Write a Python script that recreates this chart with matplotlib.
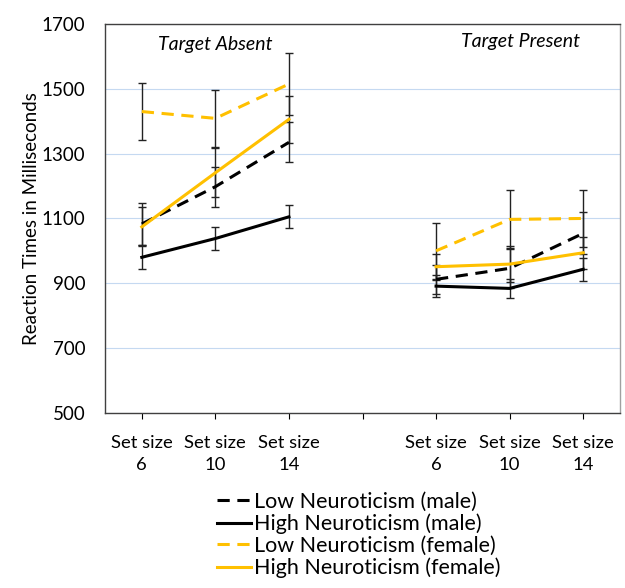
import numpy as np
import matplotlib.pyplot as plt

plt.rcParams['font.family'] = ['Lato', 'DejaVu Sans']

# categories: absent 6/10/14, gap, present 6/10/14
set_sizes = ['6', '10', '14', '', '6', '10', '14']

low_male = [1083, 1198, 1335, np.nan, 912, 946, 1054]
high_male = [980, 1038, 1105, np.nan, 891, 884, 943]
low_female = [1430, 1409, 1515, np.nan, 1000, 1097, 1100]
high_female = [1074, 1241, 1406, np.nan, 951, 959, 994]

low_male_err = [66, 62, 62, 0, 45, 62, 65]
high_male_err = [37, 35, 35, 0, 35, 30, 35]
low_female_err = [88, 88, 96, 0, 87, 90, 88]
high_female_err = [60, 75, 72, 0, 40, 55, 50]

labels = ['Low Neuroticism (male)', 'High Neuroticism (male)',
          'Low Neuroticism (female)', 'High Neuroticism (female)']

fig = plt.figure(figsize=(6.25, 5.88), dpi=100)
ax = fig.add_axes([0.168, 0.298, 0.824, 0.661])

x = np.arange(len(set_sizes))
series = [
    (low_male, low_male_err, 'black', (0, (4, 2.5))),
    (high_male, high_male_err, 'black', '-'),
    (low_female, low_female_err, '#ffc000', (0, (4, 2.5))),
    (high_female, high_female_err, '#ffc000', '-'),
]

for vals, err, col, ls in series:
    v = np.array(vals, dtype=float)
    e = np.array(err, dtype=float)
    m = ~np.isnan(v)
    ax.errorbar(x[m], v[m], yerr=e[m], fmt='none', ecolor='#222222',
                elinewidth=1.0, capsize=3, capthick=1.0, zorder=2)

handles = []
for (vals, err, col, ls), lab in zip(series, labels):
    h, = ax.plot(x, vals, color=col, linestyle=ls, linewidth=2.2, label=lab, zorder=3)
    handles.append(h)

ax.set_xlim(-0.5, 6.5)
ax.set_ylim(500, 1700)
ax.set_yticks(range(500, 1701, 200))
ax.tick_params(axis='y', length=0, labelsize=13.5, pad=14)
ax.grid(axis='y', color='#c5d9f1', linewidth=0.8)
ax.set_axisbelow(True)

ax.set_xticks(x)
ax.set_xticklabels(['Set size\n' + s if s else '' for s in set_sizes],
                   fontsize=13.3, linespacing=1.45)
ax.tick_params(axis='x', length=4, direction='out', pad=12)

for sp in ax.spines.values():
    sp.set_color('#404040')
    sp.set_linewidth(1.0)
ax.spines['right'].set_color('#a0a0a0')

ax.set_ylabel('Reaction Times in Milliseconds', fontsize=13.5, labelpad=1)

ax.text(1, 1636, 'Target Absent', style='italic', fontsize=14, ha='center', va='center')
ax.text(5.15, 1645, 'Target Present', style='italic', fontsize=14, ha='center', va='center')

fig.legend(handles=handles, loc='upper left', bbox_to_anchor=(0.333, 0.178),
           frameon=False, fontsize=15.5, handlelength=1.6, handletextpad=0.12,
           labelspacing=0.08, borderaxespad=0)

fig.savefig('out.png', dpi=100)
